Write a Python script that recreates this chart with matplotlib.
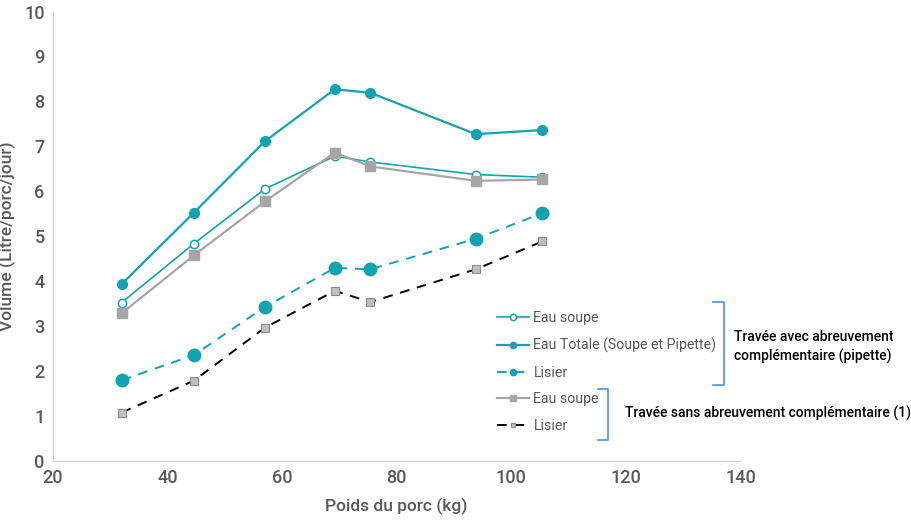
import matplotlib.pyplot as plt
from matplotlib.lines import Line2D

plt.rcParams['font.family'] = ['Roboto', 'DejaVu Sans']

# poids du porc (kg)
poids = [32, 44.6, 57, 69.2, 75.4, 93.8, 105.4]

# travée avec abreuvement complémentaire (pipette)
eau_soupe_pip = [3.52, 4.83, 6.05, 6.78, 6.65, 6.37, 6.31]
eau_totale_pip = [3.93, 5.52, 7.11, 8.27, 8.19, 7.27, 7.36]
lisier_pip = [1.79, 2.35, 3.42, 4.29, 4.26, 4.94, 5.51]

# travée sans abreuvement complémentaire
eau_soupe_sans = [3.28, 4.57, 5.77, 6.86, 6.55, 6.23, 6.26]
lisier_sans = [1.07, 1.78, 2.96, 3.78, 3.53, 4.26, 4.88]

teal = "#13a3b0"
grey = "#a6a6a6"
txt = "#595959"

fig = plt.figure(figsize=(9.12, 5.24), dpi=100)
ax = fig.add_axes([0.058, 0.121, 0.754, 0.857])

h1, = ax.plot(poids, eau_soupe_pip, color=teal, lw=1.2, marker="o", ms=6,
              mfc="white", mec=teal, mew=1.1, label="Eau soupe")
h2, = ax.plot(poids, eau_totale_pip, color=teal, lw=1.6, marker="o", ms=7,
              label="Eau Totale (Soupe et Pipette)")
h3, = ax.plot(poids, lisier_pip, color=teal, lw=1.4, ls=(0, (5, 4)), marker="o",
              ms=9, label="Lisier")
h4, = ax.plot(poids, eau_soupe_sans, color=grey, lw=1.6, marker="s", ms=7,
              label="Eau soupe")
h5, = ax.plot(poids, lisier_sans, color="black", lw=1.4, ls=(0, (5, 4)), marker="s",
              ms=6, mfc="#bfbfbf", mec="#8c8c8c", mew=0.8, label="Lisier")

ax.set_xlim(20, 140)
ax.set_ylim(0, 10)
ax.set_xticks(range(20, 141, 20))
ax.set_yticks(range(0, 11))
for s in ["top", "right"]:
    ax.spines[s].set_visible(False)
for s in ["left", "bottom"]:
    ax.spines[s].set_color("#d0d0d0")
ax.tick_params(length=0, labelsize=13, colors=txt, pad=6)
for lab in ax.get_xticklabels() + ax.get_yticklabels():
    lab.set_fontweight("medium")
ax.set_xlabel("Poids du porc (kg)", fontsize=12.5, color=txt, labelpad=8,
              fontweight="medium")
ax.set_ylabel("Volume (Litre/porc/jour)", fontsize=12.5, color=txt, labelpad=6,
              fontweight="medium")

leg = ax.legend(handles=[h1, h2, h3, h4, h5], loc="upper left",
                bbox_to_anchor=(0.637, 0.345), frameon=False, fontsize=10.2,
                handlelength=2.3, labelspacing=0.88, handletextpad=0.3,
                borderaxespad=0)
for t in leg.get_texts():
    t.set_color(txt)
for lh, ms in zip(leg.legend_handles, [4.5, 4.5, 4.5, 4.5, 3.5]):
    lh.set_markersize(ms)

W, H = 912, 524


def px(x, y):
    return x / W, 1 - y / H


def bracket(x, y0, y1, tick):
    xs = [x - tick, x, x, x - tick]
    ys = [y0, y0, y1, y1]
    pts = [px(a, b) for a, b in zip(xs, ys)]
    fig.add_artist(Line2D([p[0] for p in pts], [p[1] for p in pts],
                          color="#5b9bd5", lw=1.3))


bracket(724, 302, 385, 11)
bracket(608, 389, 440, 10)

fig.text(*px(734, 347), "Travée avec abreuvement\ncomplémentaire (pipette)",
         fontsize=10, color="black", va="center", ha="left", linespacing=1.35,
         fontweight="medium")
fig.text(*px(625, 413), "Travée sans abreuvement complémentaire (1)",
         fontsize=10, color="black", va="center", ha="left", fontweight="medium")

fig.savefig("out.png", dpi=100)
